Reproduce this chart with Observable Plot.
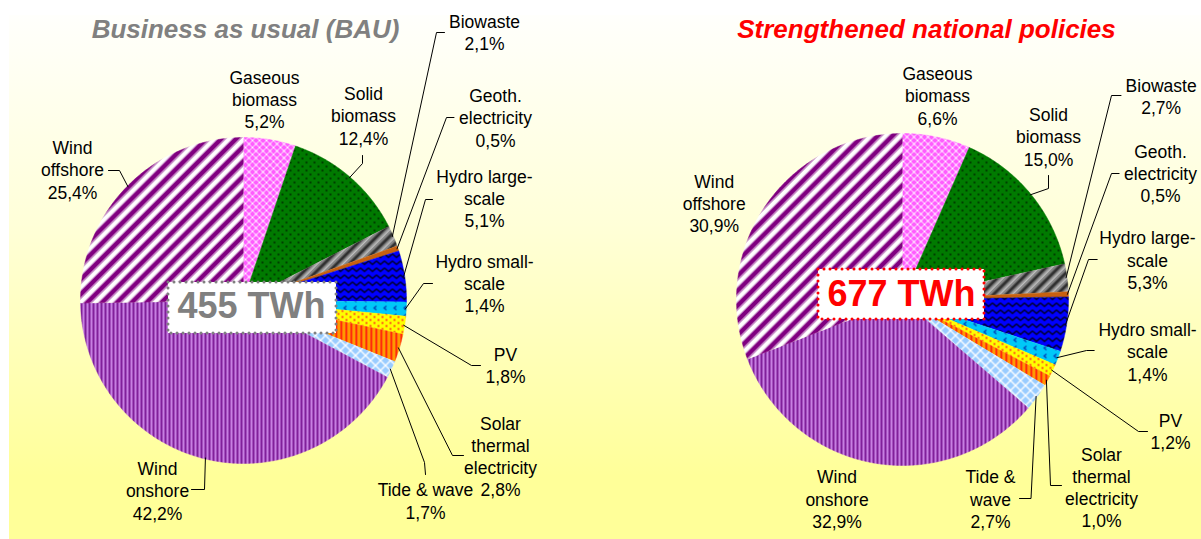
<!DOCTYPE html>
<html><head><meta charset="utf-8">
<script src="https://cdn.jsdelivr.net/npm/d3@7"></script>
<script src="https://cdn.jsdelivr.net/npm/@observablehq/plot@0.6"></script>
<style>
html,body{margin:0;padding:0;background:#fff;}
#wrap{position:relative;width:1201px;height:539px;overflow:hidden;}
#bg{position:absolute;left:9px;top:15px;right:0;bottom:0;background:linear-gradient(to bottom,#FFFFFC 0%,#FFFFD8 40%,#FFFF99 88%,#FFFF99 100%);}
#chart{position:absolute;left:0;top:0;}
</style></head><body>
<div id="wrap"><div id="bg"></div>
<svg width="0" height="0" style="position:absolute">
<defs>
<pattern id="p-gas" width="7" height="7" patternUnits="userSpaceOnUse">
  <rect width="7" height="7" fill="#FF5CFF"/>
  <path d="M0,0L7,7M7,0L0,7" stroke="#fff" stroke-width="0.9"/>
  <circle cx="3.5" cy="3.5" r="1" fill="#fff"/>
</pattern>
<pattern id="p-solid" width="8" height="8" patternUnits="userSpaceOnUse">
  <rect width="8" height="8" fill="#007A00"/>
  <circle cx="2" cy="2" r="0.9" fill="#002000"/>
  <circle cx="6" cy="6" r="0.9" fill="#002000"/>
</pattern>
<pattern id="p-biow" width="9" height="9" patternUnits="userSpaceOnUse" patternTransform="rotate(45)">
  <rect width="9" height="9" fill="#888"/>
  <rect x="0" width="2" height="9" fill="#303030"/>
  <rect x="2" width="1" height="9" fill="#5a5a5a"/>
  <rect x="8" width="1" height="9" fill="#5a5a5a"/>
  <rect x="4.5" width="1.5" height="9" fill="#bdbdbd"/>
</pattern>
<pattern id="p-geo" width="4" height="4" patternUnits="userSpaceOnUse">
  <rect width="4" height="4" fill="#C8600F"/>
</pattern>
<pattern id="p-hlarge" width="8" height="7" patternUnits="userSpaceOnUse">
  <rect width="8" height="7" fill="#0000FF"/>
  <path d="M0,1.5L4,5L8,1.5" stroke="#000" stroke-width="1.3" fill="none"/>
</pattern>
<pattern id="p-hsmall" width="10" height="8" patternUnits="userSpaceOnUse">
  <rect width="10" height="8" fill="#00C8F8"/>
  <path d="M6,1.5L3.5,3.5L6,5.5" stroke="#0030B0" stroke-width="1.1" fill="none"/>
</pattern>
<pattern id="p-pv" width="8" height="6" patternUnits="userSpaceOnUse">
  <rect width="8" height="6" fill="#FFFF00"/>
  <circle cx="2" cy="1.5" r="1" fill="#FF2020"/>
  <circle cx="6" cy="4.5" r="1" fill="#FF2020"/>
</pattern>
<pattern id="p-solar" width="5" height="5" patternUnits="userSpaceOnUse">
  <rect width="5" height="5" fill="#FF9900"/>
  <rect x="0" width="1.6" height="5" fill="#FF1010"/>
</pattern>
<pattern id="p-tide" width="10" height="10" patternUnits="userSpaceOnUse">
  <rect width="10" height="10" fill="#99CCFF"/>
  <path d="M0,0L10,10M10,0L0,10" stroke="#fff" stroke-width="1.3"/>
</pattern>
<pattern id="p-won" width="4" height="4" patternUnits="userSpaceOnUse">
  <rect width="4" height="4" fill="#C77FE2"/>
  <rect x="0" width="2" height="4" fill="#80209A"/>
</pattern>
<pattern id="p-woff" width="10.5" height="10.5" patternUnits="userSpaceOnUse" patternTransform="rotate(45)">
  <rect width="10.5" height="10.5" fill="#fff"/>
  <rect x="0" width="4.4" height="10.5" fill="#800080"/>
  <rect x="4.4" width="1.1" height="10.5" fill="#C080C0"/>
  <rect x="9.4" width="1.1" height="10.5" fill="#C080C0"/>
</pattern>
</defs>
</svg>
<div id="chart"></div></div>
<script>
// ---------- data ----------
const categories = ["Gaseous biomass","Solid biomass","Biowaste","Geoth. electricity","Hydro large-scale","Hydro small-scale","PV","Solar thermal electricity","Tide & wave","Wind onshore","Wind offshore"];
const bauShares = [5.2, 12.4, 2.1, 0.5, 5.1, 1.4, 1.8, 2.8, 1.7, 42.2, 25.4];
const snpShares = [6.6, 15.0, 2.7, 0.5, 5.3, 1.4, 1.2, 1.0, 2.7, 32.9, 30.9];
const totalsTWh = [455, 677];
const scenarioTitles = ["Business as usual (BAU)", "Strengthened national policies"];
const bauLabelLines = [["Gaseous","biomass"],["Solid","biomass"],["Biowaste"],["Geoth.","electricity"],["Hydro large-","scale"],["Hydro small-","scale"],["PV"],["Solar","thermal","electricity"],["Tide & wave"],["Wind","onshore"],["Wind","offshore"]];
const snpLabelLines = [["Gaseous","biomass"],["Solid","biomass"],["Biowaste"],["Geoth.","electricity"],["Hydro large-","scale"],["Hydro small-","scale"],["PV"],["Solar","thermal","electricity"],["Tide &","wave"],["Wind","onshore"],["Wind","offshore"]];
const patterns = ["p-gas","p-solid","p-biow","p-geo","p-hlarge","p-hsmall","p-pv","p-solar","p-tide","p-won","p-woff"];

// ---------- layout ----------
const pies = [{cx: 243, cy: 300, r: 163}, {cx: 902, cy: 299, r: 166}];
const titlePos = [[245, 37], [926, 37]];
const titleColors = ["#808080", "#FF0000"];
const boxPos = [[168, 282, 336, 333], [818, 269, 984, 319]];
const totalTextPos = [[251, 317], [901, 305]];
// label anchor: center x, baseline of last line
const bauLabelPos = [[264,127.7],[363,144],[484,49.3],[495,146],[484,226.7],[484,311.7],[505,382.7],[500,495.7],[425,518],[157,519],[72,198]];
const snpLabelPos = [[937,124],[1048,165],[1160.6,113.3],[1160,201.7],[1147,288.3],[1147,380],[1170,448.3],[1101,526.7],[990,527.3],[836.5,527.3],[713.7,231.7]];
// leader: [label end point, elbow]; the other end is on the slice edge
const bauLeaders = [null,[[362,155],[362,163]],[[444,32],[436,32]],[[453.5,117],[446,117]],[[432,199],[425,199]],[[432,283],[423,283]],[[480,365],[471,365]],[[463,455],[452,455]],[[425,474],[424,462]],[[191,489],[204,489]],[[108,170],[119,170]]];
const snpLeaders = [null,[[1048,175],[1048,188]],[[1120.5,95],[1111,95]],[[1118.6,173],[1111,173]],[[1096.7,259],[1088,259]],[[1093.7,350],[1086,350]],[[1147,431],[1138,431]],[[1061,485],[1050,485]],[[1019,498],[1030.5,498]],null,null];

const fmt = v => v.toFixed(1).replace(".", ",") + "%";

const slicePts = [], labels = [], leaderPts = [];
[[bauShares, bauLabelLines, bauLabelPos, bauLeaders], [snpShares, snpLabelLines, snpLabelPos, snpLeaders]].forEach(([shares, lines, pos, leaders], s) => {
  const {cx, cy, r} = pies[s];
  const arcs = d3.pie().sort(null).value(d => d)(shares);
  arcs.forEach((a, i) => {
    const key = s + "-" + i;
    const fill = `url(#${patterns[i]})`;
    const n = Math.max(2, Math.ceil((a.endAngle - a.startAngle) / 0.01));
    slicePts.push({key, fill, x: cx, y: cy});
    for (let j = 0; j <= n; j++) {
      const t = a.startAngle + (a.endAngle - a.startAngle) * j / n;
      slicePts.push({key, fill, x: cx + r * Math.sin(t), y: cy - r * Math.cos(t)});
    }
    labels.push({x: pos[i][0], y: pos[i][1], text: [...lines[i], fmt(shares[i])].join("\n"), cat: categories[i]});
    if (leaders[i]) {
      const m = (a.startAngle + a.endAngle) / 2;
      const [p0, p1] = leaders[i];
      leaderPts.push({k: key, x: p0[0], y: p0[1]});
      leaderPts.push({k: key, x: p1[0], y: p1[1]});
      leaderPts.push({k: key, x: cx + (r - 1) * Math.sin(m), y: cy - (r - 1) * Math.cos(m)});
    }
  });
});

const titles = scenarioTitles.map((t, s) => ({text: t, x: titlePos[s][0], y: titlePos[s][1], color: titleColors[s]}));
const boxes = totalsTWh.map((v, s) => ({x1: boxPos[s][0], y1: boxPos[s][1], x2: boxPos[s][2], y2: boxPos[s][3], color: titleColors[s]}));
const totals = totalsTWh.map((v, s) => ({text: `${v} TWh`, x: totalTextPos[s][0], y: totalTextPos[s][1], color: titleColors[s]}));

const chart = Plot.plot({
  width: 1201, height: 539, margin: 0,
  style: {background: "transparent", fontFamily: "'Liberation Sans', Arial, sans-serif", overflow: "visible"},
  x: {domain: [0, 1201], range: [0, 1201], axis: null},
  y: {domain: [0, 539], range: [0, 539], axis: null},
  color: {type: "identity"},
  marks: [
    Plot.line(slicePts, {x: "x", y: "y", z: "key", fill: "fill", stroke: "fill", strokeWidth: 0.5, curve: "linear"}),
    Plot.line(leaderPts, {x: "x", y: "y", z: "k", stroke: "#000", strokeWidth: 1, curve: "linear"}),
    Plot.text(labels, {x: "x", y: "y", text: "text", lineAnchor: "bottom", lineHeight: 1.27, fontSize: 17.5, fill: "#000", textAnchor: "middle"}),
    Plot.text(titles, {x: "x", y: "y", text: "text", fill: "color", lineAnchor: "bottom", fontSize: 26, fontWeight: "bold", fontStyle: "italic"}),
    Plot.rect(boxes, {x1: "x1", x2: "x2", y1: "y1", y2: "y2", fill: "#fff", stroke: "color", strokeWidth: 3, strokeDasharray: "0 6", strokeLinecap: "round"}),
    Plot.text(totals, {x: "x", y: "y", text: "text", fill: "color", lineAnchor: "bottom", fontSize: 36, fontWeight: "bold"})
  ]
});
document.getElementById("chart").appendChild(chart);
</script>
</body></html>
